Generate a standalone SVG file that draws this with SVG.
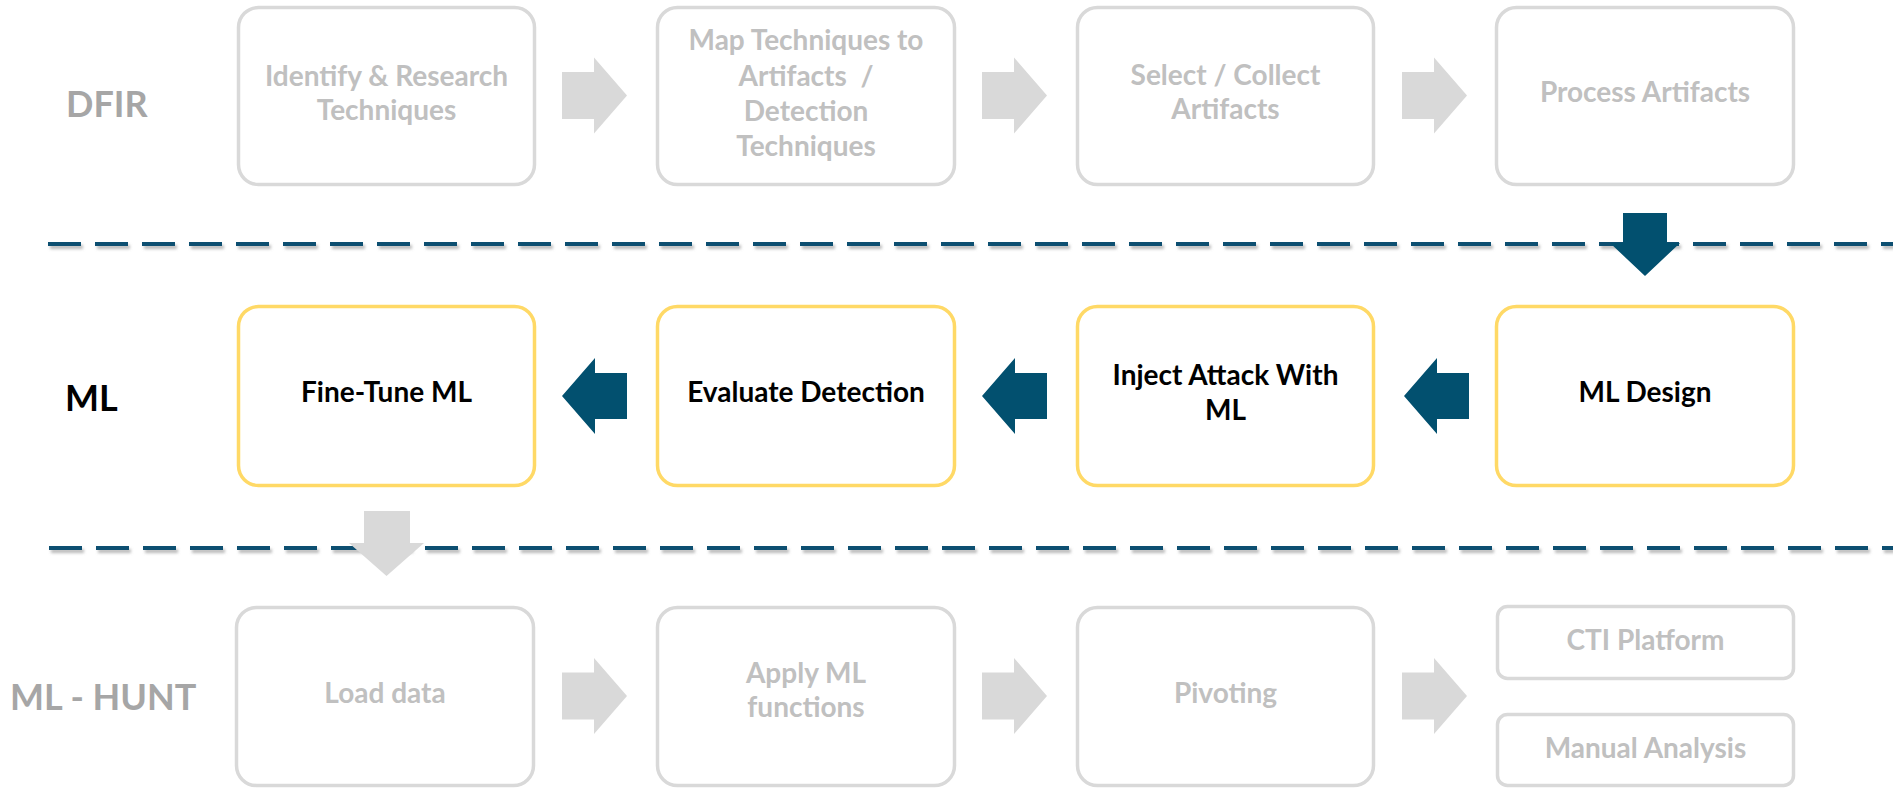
<svg xmlns="http://www.w3.org/2000/svg" xmlns:xlink="http://www.w3.org/1999/xlink" width="1893" height="793" viewBox="0 0 1893 793">
  <style>
    .lbl { font-family: Lato, "Liberation Sans", sans-serif; font-weight: 700; font-size: 36px; }
    .lbl-gray { fill: #a6a6a6; }
    .lbl-dark { fill: #000000; }
    .txt { font-family: Lato, "Liberation Sans", sans-serif; font-weight: 700; font-size: 28px; text-anchor: middle; }
    .txt-gray { fill: #c0c0c0; }
    .txt-dark { fill: #000000; }
    .box-gray { fill: #ffffff; stroke: #d9d9d9; stroke-width: 3.5; }
    .box-gold { fill: #ffffff; stroke: #ffd966; stroke-width: 3.5; }
    .arr-gray { fill: #d9d9d9; }
    .arr-blue { fill: #02506f; }
    .sep { fill: none; stroke: #0d4f71; stroke-width: 4; stroke-dasharray: 33 14; }
  </style>
  <defs>
    <filter id="shadow" filterUnits="userSpaceOnUse" x="0" y="0" width="1893" height="793">
      <feDropShadow dx="2" dy="3" stdDeviation="1.5" flood-color="#808080" flood-opacity="0.55"/>
    </filter>
    <path id="arrowRight" d="M0,-23.5 H32 V-38 L65,0 L32,38 V23.5 H0 Z"/>
    <path id="arrowLeft" d="M65,-23 H33 V-38 L0,0 L33,38 V23 H65 Z"/>
  </defs>

  <!-- Lane labels -->
  <g id="label-dfir"><text class="lbl lbl-gray" x="66" y="117">DFIR</text></g>
  <g id="label-ml"><text class="lbl lbl-dark" x="65" y="411">ML</text></g>
  <g id="label-mlhunt"><text class="lbl lbl-gray" x="10" y="710">ML - HUNT</text></g>

  <!-- Separators and connectors -->
  <g id="connectors">
    <line class="sep" x1="48" y1="244" x2="1893" y2="244" filter="url(#shadow)"/>
    <line class="sep" x1="49" y1="548" x2="1893" y2="548" filter="url(#shadow)"/>

    <!-- DFIR row arrows -->
    <use xlink:href="#arrowRight" class="arr-gray" transform="translate(562,95.5)"/>
    <use xlink:href="#arrowRight" class="arr-gray" transform="translate(982,95.5)"/>
    <use xlink:href="#arrowRight" class="arr-gray" transform="translate(1402,95.5)"/>

    <!-- DFIR -> ML down arrow -->
    <path class="arr-blue" d="M1623,213 H1667 V243 H1680 L1645,276 L1610,243 H1623 Z"/>

    <!-- ML row arrows (leftwards) -->
    <use xlink:href="#arrowLeft" class="arr-blue" transform="translate(562,396)"/>
    <use xlink:href="#arrowLeft" class="arr-blue" transform="translate(982,396)"/>
    <use xlink:href="#arrowLeft" class="arr-blue" transform="translate(1404,396)"/>

    <!-- ML -> ML-HUNT down arrow -->
    <path class="arr-gray" d="M364,511 H410 V543 H424 L386.5,576 L349,543 H364 Z"/>

    <!-- ML-HUNT row arrows -->
    <use xlink:href="#arrowRight" class="arr-gray" transform="translate(562,696)"/>
    <use xlink:href="#arrowRight" class="arr-gray" transform="translate(982,696)"/>
    <use xlink:href="#arrowRight" class="arr-gray" transform="translate(1402,696)"/>
  </g>

  <!-- DFIR row -->
  <g id="node-identify">
    <rect class="box-gray" x="238.5" y="7.5" width="296" height="177" rx="20"/>
    <text class="txt txt-gray" x="386.5" y="86">Identify &amp; Research</text>
    <text class="txt txt-gray" x="386.5" y="120">Techniques</text>
  </g>
  <g id="node-map">
    <rect class="box-gray" x="657.5" y="7.5" width="297" height="177" rx="20"/>
    <text class="txt txt-gray" x="806" y="50">Map Techniques to</text>
    <text class="txt txt-gray" x="806" y="86" xml:space="preserve">Artifacts  /</text>
    <text class="txt txt-gray" x="806" y="121">Detection</text>
    <text class="txt txt-gray" x="806" y="156">Techniques</text>
  </g>
  <g id="node-select">
    <rect class="box-gray" x="1077.5" y="7.5" width="296" height="177" rx="20"/>
    <text class="txt txt-gray" x="1225.5" y="85">Select / Collect</text>
    <text class="txt txt-gray" x="1225.5" y="119">Artifacts</text>
  </g>
  <g id="node-process">
    <rect class="box-gray" x="1496.5" y="7.5" width="297" height="177" rx="20"/>
    <text class="txt txt-gray" x="1645" y="102">Process Artifacts</text>
  </g>

  <!-- ML row -->
  <g id="node-finetune">
    <rect class="box-gold" x="238.5" y="306.5" width="296" height="179" rx="20"/>
    <text class="txt txt-dark" x="386.5" y="402">Fine-Tune ML</text>
  </g>
  <g id="node-evaluate">
    <rect class="box-gold" x="657.5" y="306.5" width="297" height="179" rx="20"/>
    <text class="txt txt-dark" x="806" y="402">Evaluate Detection</text>
  </g>
  <g id="node-inject">
    <rect class="box-gold" x="1077.5" y="306.5" width="296" height="179" rx="20"/>
    <text class="txt txt-dark" x="1225.5" y="385">Inject Attack With</text>
    <text class="txt txt-dark" x="1225.5" y="420">ML</text>
  </g>
  <g id="node-mldesign">
    <rect class="box-gold" x="1496.5" y="306.5" width="297" height="179" rx="20"/>
    <text class="txt txt-dark" x="1645" y="402">ML Design</text>
  </g>

  <!-- ML-HUNT row -->
  <g id="node-load">
    <rect class="box-gray" x="236.5" y="607.5" width="297" height="178" rx="20"/>
    <text class="txt txt-gray" x="385" y="703">Load data</text>
  </g>
  <g id="node-apply">
    <rect class="box-gray" x="657.5" y="607.5" width="297" height="178" rx="20"/>
    <text class="txt txt-gray" x="806" y="683">Apply ML</text>
    <text class="txt txt-gray" x="806" y="717">functions</text>
  </g>
  <g id="node-pivoting">
    <rect class="box-gray" x="1077.5" y="607.5" width="296" height="178" rx="20"/>
    <text class="txt txt-gray" x="1225.5" y="703">Pivoting</text>
  </g>
  <g id="node-cti">
    <rect class="box-gray" x="1497.5" y="606.5" width="296" height="72" rx="10"/>
    <text class="txt txt-gray" x="1645.5" y="650">CTI Platform</text>
  </g>
  <g id="node-manual">
    <rect class="box-gray" x="1497.5" y="714.5" width="296" height="71" rx="10"/>
    <text class="txt txt-gray" x="1645.5" y="758">Manual Analysis</text>
  </g>
</svg>
